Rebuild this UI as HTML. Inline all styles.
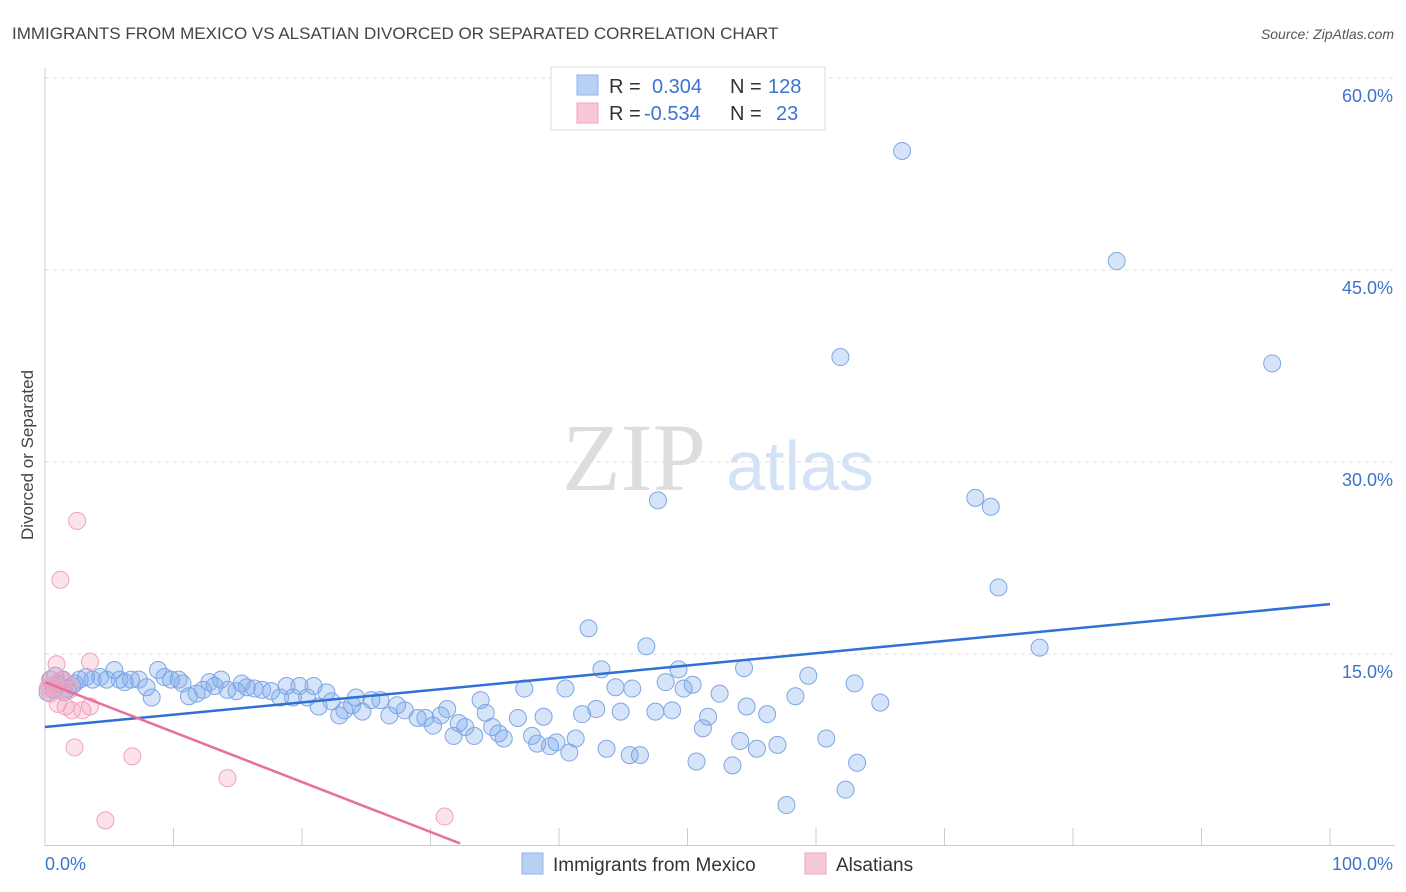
<!DOCTYPE html>
<html><head><meta charset="utf-8"><style>
body{margin:0;background:#fff;font-family:"Liberation Sans",sans-serif;}
svg{display:block}
</style></head><body>
<svg id="chart" width="1406" height="892" xmlns="http://www.w3.org/2000/svg">
<text x="12" y="39" font-size="17" fill="#444">IMMIGRANTS FROM MEXICO VS ALSATIAN DIVORCED OR SEPARATED CORRELATION CHART</text>
<text x="1394" y="39" font-size="14" fill="#555" font-style="italic" text-anchor="end">Source: ZipAtlas.com</text>
<text transform="translate(33,455) rotate(-90)" font-size="17" fill="#444" text-anchor="middle">Divorced or Separated</text>
<g>
<text x="634" y="490" font-size="96" font-family="Liberation Serif,serif" fill="#ddd" text-anchor="middle">ZIP</text>
<text x="800" y="490" font-size="70" fill="#d4e2f6" text-anchor="middle">atlas</text>
</g>
<g id="grid"></g><g id="marks"></g><g id="lines"></g>
<g>
<rect x="551" y="67" width="274" height="63" fill="#fff" stroke="#ddd"/>
<rect x="577" y="75" width="21" height="20" fill="#b7d0f4" stroke="#8fb3ea"/>
<rect x="577" y="103" width="21" height="20" fill="#f9c8d6" stroke="#f0a5bd"/>
<text x="609" y="93" font-size="20" fill="#333">R = </text>
<text x="652" y="93" font-size="20" fill="#3b74d0">0.304</text>
<text x="730" y="93" font-size="20" fill="#333">N = </text>
<text x="768" y="93" font-size="20" fill="#3b74d0">128</text>
<text x="609" y="120" font-size="20" fill="#333">R = </text>
<text x="644" y="120" font-size="20" fill="#3b74d0">-0.534</text>
<text x="730" y="120" font-size="20" fill="#333">N = </text>
<text x="776" y="120" font-size="20" fill="#3b74d0">23</text>
</g>
<g>
<rect x="522" y="853" width="21" height="21" fill="#b7d0f4" stroke="#8fb3ea"/>
<text x="553" y="871" font-size="19" fill="#333">Immigrants from Mexico</text>
<rect x="805" y="853" width="21" height="21" fill="#f9c8d6" stroke="#f0a5bd"/>
<text x="836" y="871" font-size="19" fill="#333">Alsatians</text>
</g>
</svg>
<script>
const yTicks=[15,30,45,60];
const yTickLabels=["15.0%","30.0%","45.0%","60.0%"];
const xTicks=[0,10,20,30,40,50,60,70,80,90,100];
const blueX=[66.7,83.4,61.9,95.5,47.7,72.4,73.6,74.2,42.3,77.4,46.8,43.3,49.3,54.4,59.4,50.4,48.3,49.7,63.0,37.3,40.5,44.4,45.7,52.5,58.4,65.0,54.6,56.2,51.6,51.2,42.9,44.8,47.5,48.8,41.8,38.8,36.8,33.9,34.3,31.3,34.8,35.3,35.7,37.9,38.3,39.3,39.8,40.8,41.3,43.7,45.5,46.3,54.1,55.4,57.0,60.8,50.7,53.5,63.2,62.3,57.7,32.2,32.7,33.4,31.8,30.2,30.8,29.6,29.0,28.0,27.4,26.8,26.1,25.4,24.2,24.7,23.9,23.3,22.9,22.3,21.9,21.3,20.9,20.4,19.8,19.3,18.8,18.3,17.6,16.9,16.3,15.7,15.3,14.9,14.2,13.7,13.2,12.8,12.3,11.8,11.2,10.7,10.4,9.8,9.3,8.8,8.3,7.9,7.3,6.7,6.2,5.8,5.4,4.8,4.3,3.7,3.2,2.7,2.3,1.8,1.4,1.0,0.7,0.4,0.2,1.5,2.1,0.8];
const blueY=[54.3,45.7,38.2,37.7,27.0,27.2,26.5,20.2,17.0,15.5,15.6,13.8,13.8,13.9,13.3,12.6,12.8,12.3,12.7,12.3,12.3,12.4,12.3,11.9,11.7,11.2,10.9,10.3,10.1,9.2,10.7,10.5,10.5,10.6,10.3,10.1,10.0,11.4,10.4,10.7,9.3,8.8,8.4,8.6,8.0,7.8,8.1,7.3,8.4,7.6,7.1,7.1,8.2,7.6,7.9,8.4,6.6,6.3,6.5,4.4,3.2,9.6,9.3,8.6,8.6,9.4,10.2,10.0,10.0,10.6,11.0,10.2,11.4,11.4,11.6,10.5,11.0,10.6,10.2,11.3,12.0,10.9,12.5,11.6,12.5,11.6,12.5,11.6,12.1,12.2,12.3,12.4,12.7,12.1,12.2,13.0,12.5,12.8,12.2,11.9,11.7,12.7,13.0,13.0,13.2,13.75,11.6,12.4,13.0,13.0,12.8,13.0,13.75,13.0,13.2,13.0,13.2,13.0,12.7,12.3,13.0,12.7,12.2,13.0,12.0,12.0,12.5,13.3];
const pinkX=[2.5,1.2,0.9,3.5,0.5,1.8,1.2,0.4,1.0,1.6,2.1,2.9,3.5,2.3,6.8,14.2,4.7,31.1,0.2,1.4,0.8,1.9,0.3];
const pinkY=[25.4,20.8,14.2,14.4,13.0,12.7,12.2,11.9,11.1,10.9,10.6,10.6,10.9,7.7,7.0,5.3,2.0,2.3,12.3,12.9,12.6,12.2,12.5];
const blueTrend=[[0,9.3],[100,18.9]];
const pinkTrend=[[0,12.8],[32.3,0.2]];
const NS="http://www.w3.org/2000/svg";
const X=v=>45+v*12.85, Y=v=>846-v*12.8;
function mk(t,a,p){const e=document.createElementNS(NS,t);for(const k in a)e.setAttribute(k,a[k]);p.appendChild(e);return e;}
const g=document.getElementById('grid'),m=document.getElementById('marks'),l=document.getElementById('lines');
mk('line',{x1:45,y1:68,x2:45,y2:846,stroke:'#ccc'},g);
mk('line',{x1:45,y1:845.5,x2:1395,y2:845.5,stroke:'#ccc'},g);
yTicks.forEach((t,i)=>{
 const ln=mk('line',{x1:45,y1:Y(t),x2:1395,y2:Y(t),stroke:'#ddd','stroke-dasharray':'4,4'},g);
 
 const tx=mk('text',{x:1393,y:Y(t)+24,'font-size':18,fill:'#3b74d0','text-anchor':'end'},g);
 tx.textContent=yTickLabels[i];
 
});
xTicks.forEach(t=>{const e=mk('line',{x1:X(t),y1:828,x2:X(t),y2:846,stroke:'#ccc'},g);
 });
let t0=mk('text',{x:45,y:870,'font-size':18,fill:'#3b74d0'},g);t0.textContent='0.0%';

let t1=mk('text',{x:1393,y:870,'font-size':18,fill:'#3b74d0','text-anchor':'end'},g);t1.textContent='100.0%';

blueX.forEach((v,i)=>{const c=mk('circle',{cx:X(v),cy:Y(blueY[i]),r:8.5,fill:'rgba(120,165,235,0.3)',stroke:'#7ea6e4','stroke-width':1},m);
 });
pinkX.forEach((v,i)=>{const c=mk('circle',{cx:X(v),cy:Y(pinkY[i]),r:8.5,fill:'rgba(245,160,190,0.3)',stroke:'#f0a3bd','stroke-width':1},m);
 });
const bl=mk('line',{x1:X(blueTrend[0][0]),y1:Y(blueTrend[0][1]),x2:X(blueTrend[1][0]),y2:Y(blueTrend[1][1]),stroke:'#2f6fd6','stroke-width':2.5},l);

const pl=mk('line',{x1:X(pinkTrend[0][0]),y1:Y(pinkTrend[0][1]),x2:X(pinkTrend[1][0]),y2:Y(pinkTrend[1][1]),stroke:'#e8709a','stroke-width':2.5},l);

</script>
</body></html>
